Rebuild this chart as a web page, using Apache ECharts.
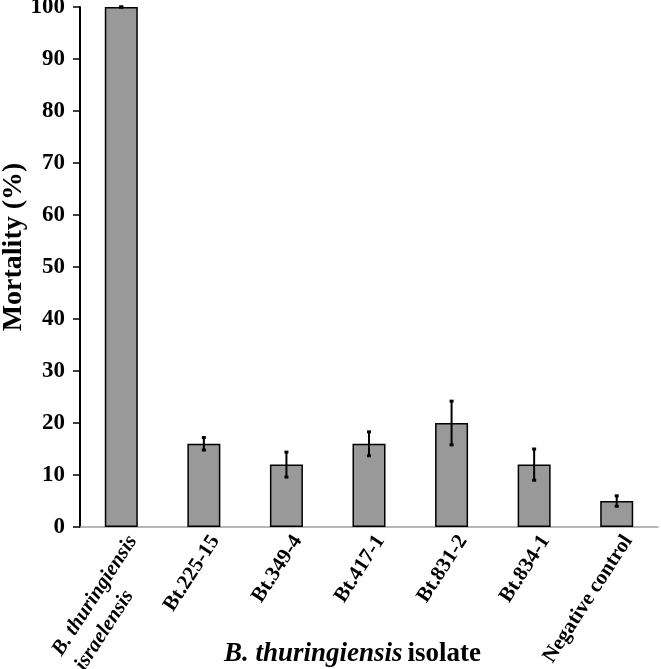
<!DOCTYPE html>
<html>
<head>
<meta charset="utf-8">
<script src="https://cdn.jsdelivr.net/npm/echarts@6/dist/echarts.min.js"></script>
<style>
  html, body { margin: 0; padding: 0; background: #fff; }
  #chart { width: 661px; height: 669px; }
</style>
</head>
<body>
<div id="chart"></div>
<script>
// isolates on the x axis
const categories = [
  "B. thuringiensis\nisraelensis",
  "Bt.225-15",
  "Bt.349-4",
  "Bt.417-1",
  "Bt.831-2",
  "Bt.834-1",
  "Negative control",
];
// mean mortality (%)
const mortality = [100, 16, 12, 16, 20, 12, 5];
// +/- error (%)
const errors = [0, 1.2, 2.4, 2.3, 4.2, 3.0, 1.0];
const yTicks = { min: 0, max: 100, step: 10 };

const serif = "'Liberation Serif', 'Times New Roman', serif";

const chart = echarts.init(document.getElementById("chart"), null, { renderer: "canvas" });

/** error bars as [index, low, high] */
const errorData = mortality.map((v, i) => [i, v - errors[i], v + errors[i]]);

const option = {
  animation: false,
  backgroundColor: "#fff",
  grid: { left: 80, right: 3, top: 7, bottom: 142, outerBoundsMode: "none", containLabel: false },
  title: {
    left: 219,
    top: 636,
    text: "{i|B. thuringiensis} {b|isolate}",
    textStyle: {
      rich: {
        i: { fontFamily: serif, fontSize: 27, fontWeight: "bold", fontStyle: "italic", color: "#000" },
        b: { fontFamily: serif, fontSize: 27, fontWeight: "bold", color: "#000" },
      },
    },
  },
  xAxis: {
    type: "category",
    data: categories,
    axisLine: { lineStyle: { color: "#a0a0a0", width: 1.5 } },
    axisTick: { show: false },
    axisLabel: {
      interval: 0,
      rotate: 57,
      margin: 3,
      verticalAlign: "top",
      formatter: (value) => {
        if (value.startsWith("B. ")) {
          return value.split("\n").map((s) => "{i|" + s + "}").join("\n");
        }
        return "{b|" + value + "}";
      },
      rich: {
        i: { fontFamily: serif, fontSize: 21, fontWeight: "bold", fontStyle: "italic", color: "#000", align: "left", lineHeight: 27 },
        b: { fontFamily: serif, fontSize: 21, fontWeight: "bold", color: "#000", lineHeight: 27 },
      },
    },
  },
  yAxis: {
    type: "value",
    min: yTicks.min,
    max: yTicks.max,
    interval: yTicks.step,
    name: "Mortality (%)",
    nameLocation: "middle",
    nameRotate: 90,
    nameGap: 52,
    nameMoveOverlap: false,
    nameTextStyle: { fontFamily: serif, fontSize: 28, fontWeight: "bold", color: "#000", padding: [0, 0, 0, 40] },
    axisLine: { show: true, lineStyle: { color: "#000", width: 2 } },
    axisTick: { show: true, length: 7, lineStyle: { color: "#000", width: 1.5 } },
    splitLine: { show: false },
    axisLabel: { fontFamily: serif, fontSize: 23, fontWeight: "bold", color: "#000", margin: 15 },
  },
  series: [
    {
      type: "bar",
      data: mortality,
      barWidth: 33,
      itemStyle: { color: "#999999", borderColor: "#000", borderWidth: 1.5 },
    },
    {
      type: "custom",
      data: errorData,
      z: 10,
      renderItem: (params, api) => {
        const idx = api.value(0);
        const lo = api.coord([idx, api.value(1)]);
        const hi = api.coord([idx, api.value(2)]);
        const cap = 2;
        const style = { stroke: "#000", lineWidth: 2 };
        return {
          type: "group",
          children: [
            { type: "line", shape: { x1: hi[0], y1: hi[1], x2: lo[0], y2: lo[1] }, style },
            { type: "line", shape: { x1: hi[0] - cap, y1: hi[1], x2: hi[0] + cap, y2: hi[1] }, style: { stroke: "#000", lineWidth: 3 } },
            { type: "line", shape: { x1: lo[0] - cap, y1: lo[1], x2: lo[0] + cap, y2: lo[1] }, style: { stroke: "#000", lineWidth: 3 } },
          ],
        };
      },
    },
  ],
};

chart.setOption(option);
</script>
</body>
</html>
